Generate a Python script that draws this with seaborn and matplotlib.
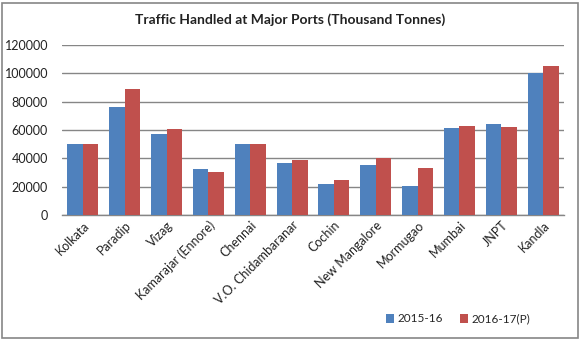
import matplotlib
matplotlib.use("Agg")
import matplotlib.pyplot as plt
import seaborn as sns
import pandas as pd
from matplotlib.patches import Rectangle

ports = ["Kolkata", "Paradip", "Vizag", "Kamarajar (Ennore)", "Chennai",
         "V.O. Chidambaranar", "Cochin", "New Mangalore", "Mormugao",
         "Mumbai", "JNPT", "Kandla"]
y2015 = [50200, 76400, 57000, 32200, 50100, 36500, 22100, 35000, 20800, 61100, 64000, 100000]
y2016 = [50000, 88900, 60600, 30300, 50200, 38500, 24900, 39900, 33200, 63000, 62000, 105400]
series = ["2015-16", "2016-17(P)"]
yticks = [0, 20000, 40000, 60000, 80000, 100000, 120000]

df = pd.DataFrame({
    "Port": ports * 2,
    "Value": y2015 + y2016,
    "Year": [series[0]] * len(ports) + [series[1]] * len(ports),
})

sns.set_theme(style="white")
plt.rcParams["font.family"] = ["Lato", "DejaVu Sans"]

fig = plt.figure(figsize=(5.81, 3.41), dpi=100)
ax = fig.add_axes([62 / 581, 1 - 215 / 341, (564 - 62) / 581, (215 - 45) / 341])

sns.barplot(data=df, x="Port", y="Value", hue="Year", ax=ax,
            palette=["#4F81BD", "#C0504D"], width=0.74, saturation=1,
            linewidth=0, zorder=3, legend=True)

ax.set_ylim(0, 120000)
ax.set_yticks(yticks)
ax.set_yticklabels([str(v) for v in yticks], fontsize=9, color="#222222")
ax.yaxis.grid(True, color="#868686", linewidth=1, zorder=0)
ax.xaxis.grid(False)
for s in ["top", "right", "left"]:
    ax.spines[s].set_visible(False)
ax.spines["bottom"].set_color("#868686")
ax.spines["bottom"].set_linewidth(1)
ax.set_xlim(-0.5, len(ports) - 0.5)
ax.set_xlabel("")
ax.set_ylabel("")
ax.tick_params(axis="y", length=0, pad=10)
ax.tick_params(axis="x", length=0, pad=3)
ax.set_xticks(range(len(ports)))
ax.set_xticklabels(ports, rotation=45, ha="right", rotation_mode="anchor",
                   fontsize=9, color="#222222")

ax.legend(loc="center", bbox_to_anchor=(458 / 581, 1 - 319 / 341),
          bbox_transform=fig.transFigure, ncol=2, frameon=False,
          fontsize=8.5, handlelength=0.7, handleheight=0.7, handletextpad=0.3,
          columnspacing=1.4)

fig.text(290 / 581, 1 - 20 / 341, "Traffic Handled at Major Ports (Thousand Tonnes)",
         ha="center", va="center", fontsize=10, fontweight="bold", color="#222222")

fig.patches.append(Rectangle((2.5 / 581, 3 / 341), (578 - 2.5) / 581, (338 - 3) / 341,
                             transform=fig.transFigure, fill=False,
                             edgecolor="#868686", linewidth=1.2))

fig.savefig("out.png", dpi=100)
